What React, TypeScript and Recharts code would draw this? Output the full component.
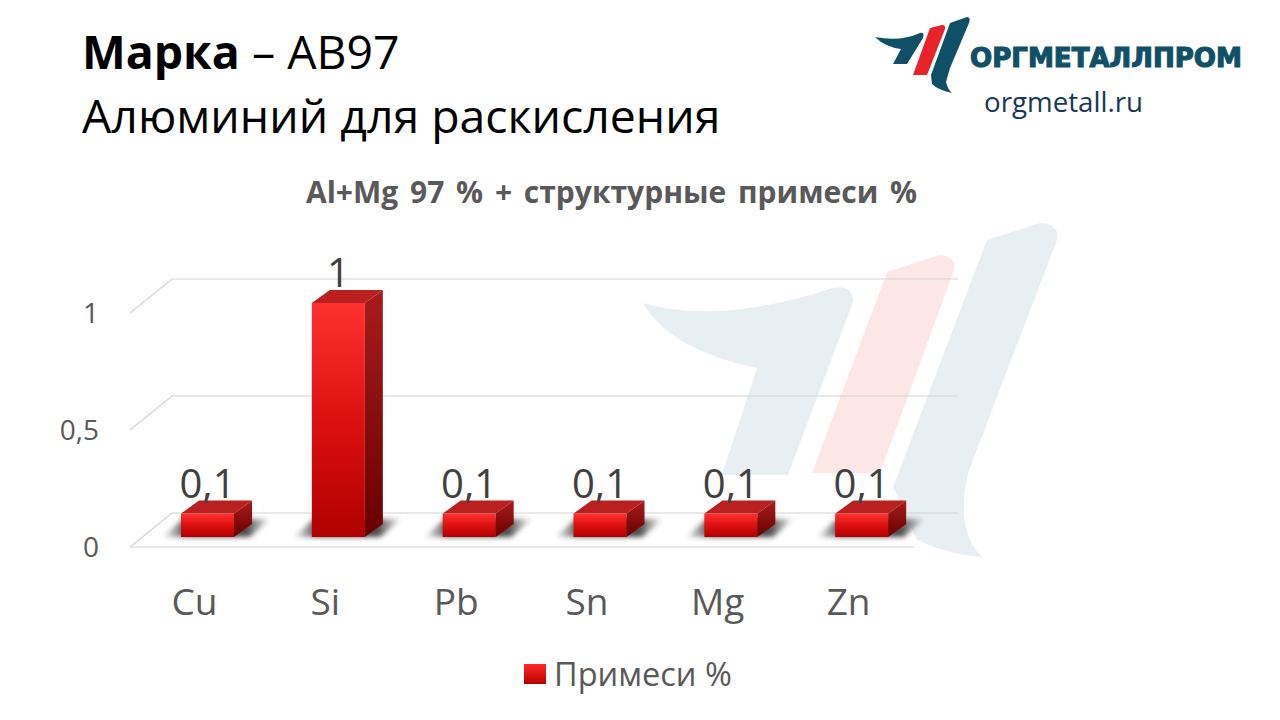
import { BarChart, Bar, XAxis, YAxis, CartesianGrid, LabelList, Legend } from 'recharts'

const categories = ['Cu', 'Si', 'Pb', 'Sn', 'Mg', 'Zn']
const impurities = [0.1, 1, 0.1, 0.1, 0.1, 0.1]
const yTicks = [0, 0.5, 1]
const seriesName = 'Примеси %'

const data = categories.map((name, i) => ({ name, value: impurities[i] }))

const font = '"Open Sans", sans-serif'
const depthX = 18
const depthY = 13
const lineColor = '#d4d4d4'
const textColor = '#595959'

const comma = (v: number) => String(v).replace('.', ',')

// floor and back wall lines sit behind/in front of the bar plane
const GridLine = ({ y1 }: any) => (
  <g key={y1} stroke={lineColor} strokeWidth={1.2} fill="none">
    <line x1={172} x2={958} y1={y1 - 24} y2={y1 - 24} />
    <line x1={130} x2={172} y1={y1 + 10} y2={y1 - 24} />
  </g>
)

const YTick = ({ y, payload }: any) => (
  <g>
    {payload.value === 0 && <line x1={130} x2={914} y1={y + 10} y2={y + 10} stroke={lineColor} strokeWidth={1.2} />}
    <text x={99} y={y + 20} textAnchor="end" fontSize={28} fontFamily={font} fill={textColor}>
      {comma(payload.value)}
    </text>
  </g>
)

const XTick = ({ x, payload }: any) => (
  <text x={x - 13} y={615} textAnchor="middle" fontSize={37} fontFamily={font} fill={textColor}>
    {payload.value}
  </text>
)

const Box = ({ x, y, width, height }: any) => {
  const r = x + width
  const b = y + height
  return (
    <g>
      <polygon
        points={`${x - 18},${b} ${r + 16},${b} ${r + 36},${b - 18} ${x + 2},${b - 18}`}
        fill="url(#shadowFill)"
        filter="url(#soft)"
      />
      <rect x={x} y={y} width={width} height={height} fill="url(#frontFill)" />
      <polygon
        points={`${x},${y} ${x + depthX},${y - depthY} ${r + depthX},${y - depthY} ${r},${y}`}
        fill="#bb2020"
      />
      <polygon
        points={`${r},${y} ${r + depthX},${y - depthY} ${r + depthX},${b - depthY} ${r},${b}`}
        fill="url(#sideFill)"
      />
    </g>
  )
}

const ValueLabel = ({ x, y, width, value }: any) => (
  <text x={x + width / 2} y={y - 16} textAnchor="middle" fontSize={40} fontFamily={font} fill="#404040">
    {comma(value)}
  </text>
)

const LegendBox = () => (
  <div style={{ position: 'relative', width: 1280, height: 50 }}>
    <svg width={22} height={20} style={{ position: 'absolute', left: 524, top: 14 }}>
      <defs>
        <linearGradient id="legendFill" x1="0" y1="0" x2="0" y2="1">
          <stop offset="0%" stopColor="#ff2a2a" />
          <stop offset="100%" stopColor="#b80000" />
        </linearGradient>
      </defs>
      <rect width={22} height={20} fill="url(#legendFill)" />
    </svg>
    <span style={{ position: 'absolute', left: 554, top: 3, fontFamily: font, fontSize: 32.5, lineHeight: '42px', color: textColor, whiteSpace: 'nowrap' }}>
      {seriesName}
    </span>
  </div>
)

const Watermark = () => (
  <svg width={1280} height={720} style={{ position: 'absolute', left: 0, top: 0 }}>
    <g fill="#e7eff2">
      <path d="M643 303 Q720 325 833 288 Q853 284 853 302 L788 475 L722 475 L757 368 Q670 350 643 303 Z" />
      <path d="M987 240 L1040 223 Q1060 224 1057 240 L968 473 Q955 530 982 557 Q950 555 917 540 L893 487 Z" />
    </g>
    <path d="M887 272 L940 255 Q956 256 954 270 L880 473 L812 473 Z" fill="#fde6e6" />
  </svg>
)

const Logo = () => (
  <svg width={1280} height={140} style={{ position: 'absolute', left: 0, top: 0 }}>
    <g fill="#0f5068">
      <path d="M875 37 Q900 42 920 33 Q925 32 923 38 L907 64 L893 64 L901 49 Q885 47 875 37 Z" />
      <path d="M950 23 L967 17 Q971 17 969 23 L950 68 L946 82 Q948 90 952 93 Q938 90 932 84 L931 75 Z" />
    </g>
    <path d="M930 28 L942 25 Q946 25 945 29 L927 75 L913 75 Z" fill="#e8242a" />
    <text x={970} y={67} fontFamily='"DejaVu Sans", sans-serif' fontWeight={700} fontSize={27} textLength={272} lengthAdjust="spacingAndGlyphs" fill="#0f5068" stroke="#0f5068" strokeWidth={1.2}>
      ОРГМЕТАЛЛПРОМ
    </text>
    <text x={984} y={112} fontFamily={font} fontSize={27.7} fill="#14395c">orgmetall.ru</text>
  </svg>
)

export default function App() {
  return (
    <div style={{ position: 'absolute', left: 0, top: 0, width: 1280, height: 720, background: '#fff', overflow: 'hidden' }}>
      <Watermark />
      <Logo />
      <div style={{ position: 'absolute', left: 82, top: 19, fontFamily: font, fontSize: 46.4, lineHeight: '64px', color: '#000', whiteSpace: 'nowrap' }}>
        <div><b>Марка</b> – АВ97</div>
        <div>Алюминий для раскисления</div>
      </div>
      <div style={{ position: 'absolute', left: 0, width: 1223, top: 172, textAlign: 'center', fontFamily: font, fontWeight: 700, fontSize: 30, wordSpacing: 4, lineHeight: '40px', color: textColor, whiteSpace: 'pre' }}>
        Al+Mg 97 % + структурные примеси %
      </div>
      <div style={{ position: 'absolute', left: 0, top: 0 }}>
        <BarChart width={1280} height={720} data={data} margin={{ top: 303, right: 353, bottom: 83, left: 42 }}>
          <defs>
            <linearGradient id="frontFill" x1="0" y1="0" x2="0" y2="1">
              <stop offset="0%" stopColor="#ff3030" />
              <stop offset="50%" stopColor="#dd1010" />
              <stop offset="100%" stopColor="#b00000" />
            </linearGradient>
            <linearGradient id="sideFill" x1="0" y1="0" x2="0" y2="1">
              <stop offset="0%" stopColor="#a81c1c" />
              <stop offset="100%" stopColor="#680000" />
            </linearGradient>
            <linearGradient id="shadowFill" x1="0" y1="0" x2="1" y2="0">
              <stop offset="0%" stopColor="#333" stopOpacity={0.05} />
              <stop offset="22%" stopColor="#222" stopOpacity={0.8} />
              <stop offset="78%" stopColor="#222" stopOpacity={0.8} />
              <stop offset="100%" stopColor="#333" stopOpacity={0.05} />
            </linearGradient>
            <filter id="soft" x="-20%" y="-30%" width="140%" height="160%">
              <feGaussianBlur stdDeviation="2.5" />
            </filter>
          </defs>
          <CartesianGrid vertical={false} horizontal={(p: any) => <GridLine key={p.y1} y1={p.y1} />} />
          <XAxis dataKey="name" axisLine={false} tickLine={false} height={50} interval={0} tick={<XTick />} />
          <YAxis width={100} domain={[0, 1]} ticks={yTicks} axisLine={false} tickLine={false} tick={<YTick />} />
          <Legend content={<LegendBox />} wrapperStyle={{ left: 0, top: 650, width: 1280, height: 50 }} />
          <Bar dataKey="value" name={seriesName} barSize={53} shape={<Box />} isAnimationActive={false}>
            <LabelList dataKey="value" content={<ValueLabel />} />
          </Bar>
        </BarChart>
      </div>
    </div>
  )
}
